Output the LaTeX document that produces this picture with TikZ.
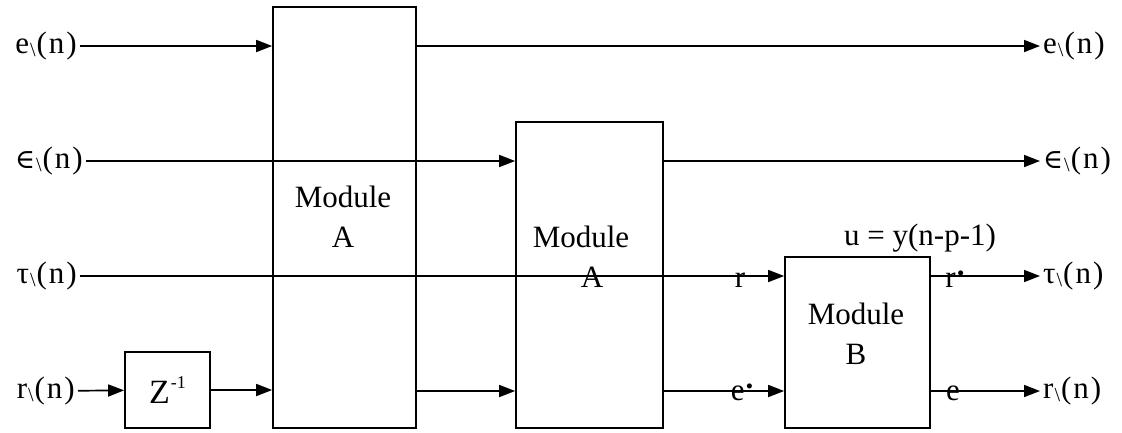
\documentclass[tikz,border=0pt]{standalone}
\usepackage{fontspec}
\setmainfont{Liberation Serif}
\newfontfamily\symfont{DejaVu Serif}
\usetikzlibrary{arrows.meta, positioning, calc}

\newcommand{\sbs}{\kern1pt\raisebox{-0.2ex}{\fontsize{20}{20}\selectfont\textbackslash}\kern1pt}
\newcommand{\nidx}{(\kern2pt n\kern2pt)}
\newcommand{\epsi}{{\symfont\fontsize{27}{27}\selectfont ∈}}
\newcommand{\dotmark}{\kern1pt\raisebox{0.8ex}{\textbf{.}}}

\begin{document}
\begin{tikzpicture}[x=1pt, y=-1pt, font=\fontsize{31}{40}\selectfont,
    blk/.style={draw, line width=1.7pt, inner sep=0pt},
    sig/.style={line width=1.7pt, -{Triangle[length=16pt,width=12pt]}},
    io/.style={inner sep=3pt},
    lbl/.style={inner sep=0pt, anchor=base}]
    \useasboundingbox (0,0) rectangle (1122,432);
    % blocks
    \node[blk, minimum width=143pt, minimum height=421pt] (A1) at (344.5,217.5) {};
    \node[blk, minimum width=147pt, minimum height=306pt] (A2) at (589.5,275) {};
    \node[blk, minimum width=145pt, minimum height=171pt] (B) at (857.5,342.5) {};
    \node[blk, minimum width=85pt, minimum height=76pt] (Z) at (167.5,390) {{\fontsize{34}{34}\selectfont Z}\kern1pt\raisebox{1.05ex}{\fontsize{18}{18}\selectfont -1}};
    % signals in and out
    \node[io, anchor=east] (ein) at (80,46) {e\sbs\nidx};
    \node[io, anchor=east] (epsin) at (86,161) {\epsi\sbs\nidx};
    \node[io, anchor=east] (tauin) at (80,276) {τ\sbs\nidx};
    \node[io, anchor=east] (rin) at (78,391) {r\sbs\nidx};
    \node[io, anchor=west] (eout) at (1040,46) {e\sbs\nidx};
    \node[io, anchor=west] (epsout) at (1040,161) {\epsi\sbs\nidx};
    \node[io, anchor=west] (tauout) at (1040,276) {τ\sbs\nidx};
    \node[io, anchor=west] (rout) at (1040,391) {r\sbs\nidx};
    % connections
    \draw[sig] (ein) -- (ein -| A1.west);
    \draw[sig] (A1.east |- ein) -- (eout);
    \draw[sig] (epsin) -- (epsin -| A2.west);
    \draw[sig] (A2.east |- epsin) -- (epsout);
    \draw[sig] (tauin) -- (tauin -| B.west);
    \draw[sig] (B.east |- tauin) -- (tauout);
    \draw[sig] (rin) -- (Z);
    \draw[sig] (Z) -- (Z -| A1.west);
    \draw[sig] (A1.east |- rin) -- (A2.west |- rin);
    \draw[sig] (A2.east |- rin) -- (B.west |- rin);
    \draw[sig] (B.east |- rin) -- (rout);
    % texts
    \node[align=center] (tA1) at (343,217) {Module\\A};
    \node[align=center] (tA2) at (581,257) {Module\\\hspace*{22pt}A};
    \node[align=center] (tB) at (856,334) {Module\\B};
    \node[lbl] (u) at (920,245) {u = y(n-p-1)};
    \node[lbl] (rin2) at (740,287) {r};
    \node[lbl] (rout2) at (955,287) {r\dotmark};
    \node[lbl] (ein2) at (742,400) {e\dotmark};
    \node[lbl] (eout2) at (953,400) {e};
\end{tikzpicture}
\end{document}
